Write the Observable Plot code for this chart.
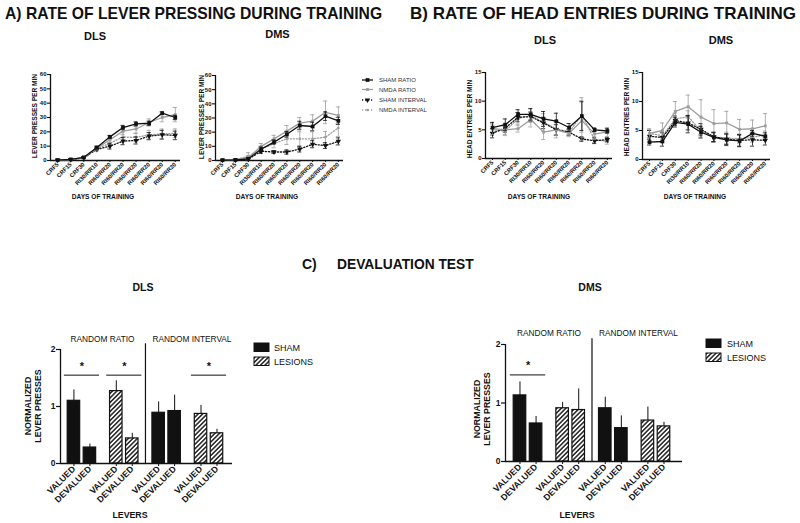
<!DOCTYPE html>
<html><head><meta charset="utf-8">
<script src="https://cdn.jsdelivr.net/npm/d3@7"></script>
<script src="https://cdn.jsdelivr.net/npm/@observablehq/plot@0.6"></script>
<style>
body{margin:0;background:#fff;}
#root{position:relative;width:800px;height:523px;overflow:hidden;background:#fff;}
#root svg{position:absolute;left:0;top:0;}
</style></head><body><div id="root"></div>
<script>
// ---------- DATA ----------
const days = ["CRF5","CRF15","CRF30","RI30/RR10","RI60/RR20","RI60/RR20","RI60/RR20","RI60/RR20","RI60/RR20","RI60/RR20"];
const seriesNames = ["SHAM RATIO","NMDA RATIO","SHAM INTERVAL","NMDA INTERVAL"];

// A) lever presses per min — DLS
const aDlsShamRatio     = [0.3, 0.8, 2.2, 9.0, 16.5, 23.0, 25.5, 26.0, 33.0, 30.0];
const aDlsShamRatioErr  = [0.3, 0.3, 0.5, 1.0, 1.0, 1.5, 1.5, 1.5, 1.0, 1.5];
const aDlsNmdaRatio     = [0.3, 0.6, 2.0, 8.5, 14.5, 20.5, 22.0, 26.5, 30.0, 32.0];
const aDlsNmdaRatioErr  = [0.3, 0.3, 0.6, 1.2, 2.0, 2.5, 3.0, 2.5, 3.0, 5.0];
const aDlsShamInt       = [0.3, 0.6, 1.8, 7.8, 10.0, 13.5, 14.0, 17.0, 18.0, 17.5];
const aDlsShamIntErr    = [0.3, 0.3, 0.5, 1.0, 2.0, 2.5, 2.5, 2.5, 3.0, 3.0];
const aDlsNmdaInt       = [0.3, 0.6, 2.0, 8.3, 12.0, 16.5, 16.0, 18.0, 18.5, 19.0];
const aDlsNmdaIntErr    = [0.3, 0.3, 0.6, 1.2, 2.5, 3.5, 3.0, 3.0, 3.5, 3.0];
// A) DMS
const aDmsShamRatio     = [0.3, 0.4, 1.2, 8.0, 13.0, 18.5, 24.7, 24.0, 31.3, 28.0];
const aDmsShamRatioErr  = [0.3, 0.3, 0.8, 1.5, 1.5, 2.0, 3.0, 3.0, 3.0, 2.5];
const aDmsNmdaRatio     = [0.4, 0.6, 2.0, 10.0, 15.3, 20.7, 26.4, 27.8, 34.0, 31.8];
const aDmsNmdaRatioErr  = [0.3, 0.4, 1.5, 2.0, 2.5, 4.0, 4.0, 4.5, 8.0, 6.0];
const aDmsShamInt       = [0.2, 0.3, 1.0, 6.5, 6.0, 6.0, 8.0, 11.5, 10.5, 13.5];
const aDmsShamIntErr    = [0.2, 0.3, 0.8, 1.5, 1.0, 1.5, 2.0, 2.5, 2.0, 2.5];
const aDmsNmdaInt       = [0.4, 0.6, 3.0, 8.0, 12.0, 15.3, 15.3, 15.3, 16.5, 23.0];
const aDmsNmdaIntErr    = [0.3, 0.4, 2.5, 2.0, 3.0, 4.0, 5.0, 5.0, 4.0, 6.0];

// B) head entries per min — DLS
const bDlsShamRatio     = [5.4, 5.9, 7.7, 7.7, 6.9, 6.5, 5.4, 7.4, 5.0, 4.8];
const bDlsShamRatioErr  = [0.9, 1.0, 0.8, 1.0, 1.3, 1.4, 0.7, 2.5, 0.3, 0.4];
const bDlsNmdaRatio     = [5.2, 5.0, 5.2, 6.8, 4.6, 5.0, 4.4, 6.6, 4.3, 4.6];
const bDlsNmdaRatioErr  = [1.0, 0.8, 0.6, 1.3, 1.3, 1.4, 0.6, 3.5, 1.0, 0.8];
const bDlsShamInt       = [4.4, 5.3, 7.2, 7.3, 6.2, 5.0, 4.6, 3.4, 3.1, 3.3];
const bDlsShamIntErr    = [0.8, 0.7, 0.8, 0.8, 1.0, 0.9, 0.5, 0.4, 0.5, 0.4];
const bDlsNmdaInt       = [5.0, 4.8, 7.0, 7.5, 6.3, 5.2, 4.6, 7.6, 3.3, 3.0];
const bDlsNmdaIntErr    = [1.0, 0.8, 1.0, 1.2, 1.5, 1.2, 0.6, 3.0, 0.5, 0.5];
// B) DMS
const bDmsShamRatio     = [3.0, 3.1, 6.4, 6.1, 4.7, 3.8, 3.4, 3.2, 4.5, 4.0];
const bDmsShamRatioErr  = [0.5, 0.8, 0.8, 1.5, 1.0, 0.8, 1.0, 1.0, 0.5, 0.6];
const bDmsNmdaRatio     = [4.5, 5.0, 8.3, 9.1, 7.3, 6.2, 6.3, 5.2, 5.3, 5.8];
const bDmsNmdaRatioErr  = [0.8, 1.3, 1.7, 2.0, 3.0, 2.4, 2.0, 1.7, 1.5, 2.1];
const bDmsShamInt       = [4.0, 3.8, 6.7, 6.3, 5.2, 3.9, 3.5, 3.3, 3.4, 3.3];
const bDmsShamIntErr    = [1.0, 0.8, 0.8, 1.2, 1.0, 0.8, 0.9, 1.0, 1.1, 0.8];
const bDmsNmdaInt       = [4.5, 4.1, 7.0, 7.4, 4.9, 3.9, 3.7, 3.6, 3.8, 4.3];
const bDmsNmdaIntErr    = [0.7, 0.7, 1.0, 1.0, 1.0, 0.8, 1.0, 0.8, 0.8, 0.6];

// C) devaluation test
const levers    = ["VALUED","DEVALUED","VALUED","DEVALUED","VALUED","DEVALUED","VALUED","DEVALUED"];
const groups    = ["SHAM","SHAM","LESIONS","LESIONS","SHAM","SHAM","LESIONS","LESIONS"];
const schedules = ["RANDOM RATIO","RANDOM INTERVAL"];
const cDlsValues = [1.10, 0.28, 1.27, 0.44, 0.89, 0.92, 0.87, 0.53];
const cDlsErr    = [0.19, 0.06, 0.18, 0.09, 0.19, 0.28, 0.15, 0.07];
const cDlsSigPairs = [0, 1, 3];
const cDlsSigLevel = 1.55;
const cDmsValues = [1.13, 0.65, 0.91, 0.88, 0.91, 0.57, 0.70, 0.60];
const cDmsErr    = [0.23, 0.12, 0.10, 0.36, 0.19, 0.21, 0.23, 0.07];
const cDmsSigPairs = [0];
const cDmsSigLevel = 1.48;

// ---------- RENDER ----------
const W = 800, H = 523;
const FONT = '"Liberation Sans", Arial, Helvetica, sans-serif';
const INK = "#111", GRAY = "#9c9c9c";
const root = document.getElementById("root");

const STYLES = {
  "SHAM RATIO":    {stroke: INK,  dash: undefined, symbol: "square",   r: 2.1, rotate: 0},
  "NMDA RATIO":    {stroke: GRAY, dash: undefined, symbol: "square",   r: 1.6, rotate: 0},
  "SHAM INTERVAL": {stroke: INK,  dash: "1.2,1.8", symbol: "triangle", r: 2.0, rotate: 180},
  "NMDA INTERVAL": {stroke: GRAY, dash: "1.2,1.8", symbol: "square",   r: 1.3, rotate: 0}
};
const drawOrder = ["NMDA INTERVAL","SHAM INTERVAL","NMDA RATIO","SHAM RATIO"];

function rows(values, errs) { return values.map((v, i) => ({i, v, e: errs[i]})); }

function linePanel(series, f) {
  const xDom = [-0.55, 9.4];
  const marks = [
    Plot.ruleY([0], {stroke: INK, strokeWidth: 1.3}),
    Plot.ruleX([xDom[0]], {y1: 0, y2: f.yMax, stroke: INK, strokeWidth: 1.3}),
    Plot.axisY({ticks: d3.range(0, f.yMax + 0.001, f.yStep), tickFormat: d3.format("d"), tickSize: 3, tickPadding: 1, fontSize: 6, label: null, strokeWidth: 1.1, fill: INK}),
    Plot.axisX({ticks: d3.range(days.length), tickFormat: i => days[i], tickRotate: -45, tickSize: 2, tickPadding: 1, fontSize: 5.9, label: null, strokeWidth: 1, fill: INK})
  ];
  for (const name of drawOrder) {
    const d = series[name], s = STYLES[name];
    marks.push(Plot.ruleX(d, {x: "i", y1: r => Math.max(0, r.v - r.e), y2: r => r.v + r.e, stroke: s.stroke, strokeWidth: 0.8}));
    marks.push(Plot.ruleY(d, {y: r => r.v + r.e, x1: r => r.i - 0.16, x2: r => r.i + 0.16, stroke: s.stroke, strokeWidth: 0.8}));
    marks.push(Plot.ruleY(d, {y: r => Math.max(0, r.v - r.e), x1: r => r.i - 0.16, x2: r => r.i + 0.16, stroke: s.stroke, strokeWidth: 0.8}));
    marks.push(Plot.line(d, {x: "i", y: "v", stroke: s.stroke, strokeWidth: 1.3, strokeDasharray: s.dash}));
    marks.push(Plot.dot(d, {x: "i", y: "v", symbol: s.symbol, r: s.r, fill: s.stroke, rotate: s.rotate}));
  }
  return Plot.plot({
    width: W, height: H,
    marginLeft: f.left, marginRight: W - f.right, marginTop: f.top, marginBottom: H - f.bottom,
    x: {domain: xDom, label: null}, y: {domain: [0, f.yMax], label: null},
    style: {fontFamily: FONT, fontWeight: "bold", background: "transparent", overflow: "visible", color: INK},
    marks
  });
}

function addHatch(svgNode) {
  const svg = d3.select(svgNode);
  const p = svg.insert("defs", ":first-child").append("pattern")
    .attr("id", "hatch").attr("patternUnits", "userSpaceOnUse")
    .attr("width", 3.2).attr("height", 3.2).attr("patternTransform", "rotate(45)");
  p.append("rect").attr("width", 3.2).attr("height", 3.2).attr("fill", "white");
  p.append("line").attr("x1", 0.8).attr("y1", 0).attr("x2", 0.8).attr("y2", 3.2).attr("stroke", INK).attr("stroke-width", 1.4);
}

const PAIR_GAP = 2.65;
function barPanel(values, errs, sigPairs, sigLevel, f) {
  const bars = values.map((v, k) => ({k, pos: Math.floor(k / 2) * PAIR_GAP + (k % 2), v, e: errs[k], lever: levers[k], group: groups[k]}));
  const sep = (bars[3].pos + bars[4].pos) / 2;
  const sigs = sigPairs.map(p => ({x1: bars[2 * p].pos - 0.6, x2: bars[2 * p + 1].pos + 0.6, y: sigLevel}));
  const heads = [
    {x: sep, label: schedules[0], anchor: "end"},
    {x: sep, label: schedules[1], anchor: "start"}
  ];
  const half = 0.39;
  const svg = Plot.plot({
    width: W, height: H,
    marginLeft: f.left, marginRight: W - f.right, marginTop: f.top, marginBottom: H - f.bottom,
    x: {domain: f.xDom, label: null}, y: {domain: [0, 2], label: null},
    style: {fontFamily: FONT, fontWeight: "bold", background: "transparent", overflow: "visible", color: INK},
    marks: [
      Plot.ruleX(bars, {x: "pos", y1: "v", y2: d => d.v + d.e, stroke: INK, strokeWidth: 1}),
      Plot.rect(bars.filter(d => d.group === "SHAM"), {x1: d => d.pos - half, x2: d => d.pos + half, y1: 0, y2: "v", fill: INK, stroke: INK, strokeWidth: 1.2}),
      Plot.rect(bars.filter(d => d.group === "LESIONS"), {x1: d => d.pos - half, x2: d => d.pos + half, y1: 0, y2: "v", fill: "url(#hatch)", stroke: INK, strokeWidth: 1.2}),
      Plot.ruleY([0], {stroke: INK, strokeWidth: 1.3}),
      Plot.ruleX([f.xDom[0]], {y1: 0, y2: 2, stroke: INK, strokeWidth: 1.3}),
      Plot.ruleX([sep], {y1: 0, y2: 2.1, stroke: INK, strokeWidth: 1.2}),
      Plot.ruleY(sigs, {x1: "x1", x2: "x2", y: "y", stroke: INK, strokeWidth: 1}),
      Plot.text(sigs, {x: d => (d.x1 + d.x2) / 2, y: d => d.y + 0.16, text: () => "*", fontSize: 11, fontWeight: "bold", fill: INK}),
      Plot.text(heads.filter(h => h.anchor === "end"), {x: "x", y: 2.14, text: "label", textAnchor: "end", dx: -11, fontSize: 8.3, fontWeight: "normal", lineAnchor: "bottom", fill: INK}),
      Plot.text(heads.filter(h => h.anchor === "start"), {x: "x", y: 2.14, text: "label", textAnchor: "start", dx: 7, fontSize: 8.3, fontWeight: "normal", lineAnchor: "bottom", fill: INK}),
      Plot.axisY({ticks: [0, 1, 2], tickFormat: d3.format("d"), tickSize: 4, tickPadding: 1, fontSize: 8.5, label: null, strokeWidth: 1.2, fill: INK}),
      Plot.axisX({ticks: bars.map(d => d.pos), tickFormat: p => bars.find(b => b.pos === p).lever, tickRotate: -45, tickSize: 3, tickPadding: 1, fontSize: 8.8, label: null, fill: INK})
    ]
  });
  addHatch(svg);
  return svg;
}

function panelSeries(sr, sre, nr, nre, si, sie, ni, nie) {
  return {"SHAM RATIO": rows(sr, sre), "NMDA RATIO": rows(nr, nre), "SHAM INTERVAL": rows(si, sie), "NMDA INTERVAL": rows(ni, nie)};
}

root.appendChild(linePanel(panelSeries(aDlsShamRatio, aDlsShamRatioErr, aDlsNmdaRatio, aDlsNmdaRatioErr, aDlsShamInt, aDlsShamIntErr, aDlsNmdaInt, aDlsNmdaIntErr),
  {left: 50, right: 180, top: 74, bottom: 160, yMax: 60, yStep: 10}));
root.appendChild(linePanel(panelSeries(aDmsShamRatio, aDmsShamRatioErr, aDmsNmdaRatio, aDmsNmdaRatioErr, aDmsShamInt, aDmsShamIntErr, aDmsNmdaInt, aDmsNmdaIntErr),
  {left: 215, right: 343, top: 75, bottom: 160, yMax: 60, yStep: 10}));
root.appendChild(linePanel(panelSeries(bDlsShamRatio, bDlsShamRatioErr, bDlsNmdaRatio, bDlsNmdaRatioErr, bDlsShamInt, bDlsShamIntErr, bDlsNmdaInt, bDlsNmdaIntErr),
  {left: 485, right: 612, top: 72, bottom: 158, yMax: 15, yStep: 5}));
root.appendChild(linePanel(panelSeries(bDmsShamRatio, bDmsShamRatioErr, bDmsNmdaRatio, bDmsNmdaRatioErr, bDmsShamInt, bDmsShamIntErr, bDmsNmdaInt, bDmsNmdaIntErr),
  {left: 642, right: 770, top: 72, bottom: 159, yMax: 15, yStep: 5}));
root.appendChild(barPanel(cDlsValues, cDlsErr, cDlsSigPairs, cDlsSigLevel, {left: 60, right: 232, top: 349, bottom: 463, xDom: [-0.84, 9.92]}));
root.appendChild(barPanel(cDmsValues, cDmsErr, cDmsSigPairs, cDmsSigLevel, {left: 505, right: 682, top: 344, bottom: 461, xDom: [-0.9, 10.1]}));

// ---------- titles, axis titles, legends ----------
const ov = d3.create("svg").attr("width", W).attr("height", H).style("font-family", FONT);
addHatch(ov.node());
function txt(x, y, s, o = {}) {
  const t = ov.append("text").attr("x", x).attr("y", y).text(s)
    .attr("font-size", o.size || 10).attr("font-weight", o.weight || "bold")
    .attr("text-anchor", o.anchor || "start").attr("fill", o.fill || INK);
  if (o.rotate) t.attr("transform", `rotate(${o.rotate},${x},${y})`);
  if (o.baseline) t.attr("dominant-baseline", o.baseline);
  return t;
}
txt(5, 19, "A) RATE OF LEVER PRESSING DURING TRAINING", {size: 15.7});
txt(410, 19, "B) RATE OF HEAD ENTRIES DURING TRAINING", {size: 17});
txt(95, 40, "DLS", {size: 11, anchor: "middle"});
txt(277.5, 38, "DMS", {size: 11, anchor: "middle"});
txt(545, 44, "DLS", {size: 11, anchor: "middle"});
txt(721, 44, "DMS", {size: 11, anchor: "middle"});
txt(302, 269, "C)", {size: 14});
txt(337, 269, "DEVALUATION TEST", {size: 13.8});
txt(143, 291, "DLS", {size: 10.5, anchor: "middle"});
txt(590, 291, "DMS", {size: 10.5, anchor: "middle"});

// line-panel axis titles
txt(34, 116, "LEVER PRESSES PER MIN", {size: 6.6, anchor: "middle", rotate: -90, baseline: "central"});
txt(201, 117, "LEVER PRESSES PER MIN", {size: 6.6, anchor: "middle", rotate: -90, baseline: "central"});
txt(469, 119, "HEAD ENTRIES PER MIN", {size: 6.6, anchor: "middle", rotate: -90, baseline: "central"});
txt(626, 117, "HEAD ENTRIES PER MIN", {size: 6.6, anchor: "middle", rotate: -90, baseline: "central"});
txt(103, 199, "DAYS OF TRAINING", {size: 6.6, anchor: "middle"});
txt(267, 199, "DAYS OF TRAINING", {size: 6.6, anchor: "middle"});
txt(539, 199, "DAYS OF TRAINING", {size: 6.6, anchor: "middle"});
txt(695, 199, "DAYS OF TRAINING", {size: 6.6, anchor: "middle"});

// bar-panel axis titles
txt(28, 406, "NORMALIZED", {size: 8.8, anchor: "middle", rotate: -90, baseline: "central"});
txt(37.5, 406, "LEVER PRESSES", {size: 8.8, anchor: "middle", rotate: -90, baseline: "central"});
txt(477, 409, "NORMALIZED", {size: 8.8, anchor: "middle", rotate: -90, baseline: "central"});
txt(486.5, 409, "LEVER PRESSES", {size: 8.8, anchor: "middle", rotate: -90, baseline: "central"});
txt(130, 518, "LEVERS", {size: 8.8, anchor: "middle"});
txt(577, 518, "LEVERS", {size: 8.8, anchor: "middle"});

// legend A
const legRows = [80, 89.5, 100, 110];
seriesNames.forEach((name, k) => {
  const s = STYLES[name], y = legRows[k];
  ov.append("line").attr("x1", 362).attr("x2", 373).attr("y1", y).attr("y2", y)
    .attr("stroke", s.stroke).attr("stroke-width", 1.3).attr("stroke-dasharray", s.dash || null);
  const sym = s.symbol === "square" ? d3.symbolSquare : d3.symbolTriangle;
  ov.append("path").attr("d", d3.symbol(sym, s.r * s.r * Math.PI)()).attr("fill", s.stroke)
    .attr("transform", `translate(367.5,${y}) rotate(${s.rotate})`);
  txt(379, y, name, {size: 6, weight: "normal", baseline: "central", fill: "#333"});
});

// legend C
function legendC(x, y0, y1, tx) {
  ov.append("rect").attr("x", x).attr("y", y0).attr("width", 15).attr("height", 8.5).attr("fill", INK).attr("stroke", INK);
  ov.append("rect").attr("x", x).attr("y", y1).attr("width", 15).attr("height", 8.5).attr("fill", "url(#hatch)").attr("stroke", INK);
  txt(tx, y0 + 4.5, groups[0], {size: 9, weight: "normal", baseline: "central"});
  txt(tx, y1 + 4.5, groups[2], {size: 9, weight: "normal", baseline: "central"});
}
legendC(254, 343, 357, 274);
legendC(706, 339, 353, 727);

root.appendChild(ov.node());
</script></body></html>
